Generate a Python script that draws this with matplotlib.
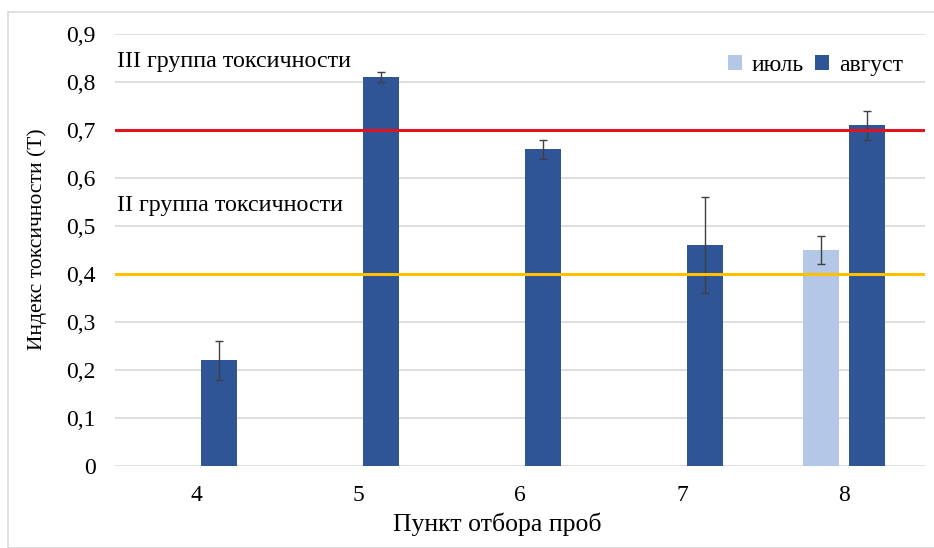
import matplotlib
matplotlib.use('Agg')
import matplotlib.pyplot as plt
import numpy as np
from matplotlib.patches import Rectangle

# data
points = ['4', '5', '6', '7', '8']
july = [np.nan, np.nan, np.nan, np.nan, 0.45]
july_err = [0, 0, 0, 0, 0.03]
august = [0.22, 0.81, 0.66, 0.46, 0.71]
august_err = [0.04, 0.01, 0.02, 0.10, 0.03]
limit_iii = 0.7
limit_ii = 0.4

plt.rcParams['font.family'] = ['Liberation Serif', 'DejaVu Serif']

fig = plt.figure(figsize=(9.34, 5.48), dpi=100)
fig.patches.append(Rectangle((8/934, 0), 1, 1 - 12/548, transform=fig.transFigure,
                             fill=False, edgecolor='#d9d9d9', lw=1.2))
ax = fig.add_axes([115/934, 1 - 466/548, 810/934, 432/548])

x = np.arange(len(points))
w = 0.222
off = 0.142
err_kw = dict(ecolor='#404040', elinewidth=1.0, capsize=3, capthick=1.0)
ax.bar(x - off, july, w, yerr=[0 if np.isnan(v) else e for v, e in zip(july, july_err)],
       color='#b4c7e7', label='июль', error_kw=err_kw, zorder=3)
ax.bar(x + off, august, w, yerr=august_err, color='#2f5597', label='август',
       error_kw=err_kw, zorder=3)

ax.axhline(limit_iii, color='#e0141e', lw=2.2, zorder=4)
ax.axhline(limit_ii, color='#ffc000', lw=2.2, zorder=4)

ax.text(-0.49, 0.843, 'III группа токсичности', fontsize=17.3, va='center', ha='left')
ax.text(-0.49, 0.543, 'II группа токсичности', fontsize=17.3, va='center', ha='left')

ax.set_xlim(-0.5, 4.5)
ax.set_ylim(0, 0.9)
ax.set_yticks(np.arange(0, 0.91, 0.1))
ax.set_yticklabels(['0'] + ['0,%d' % i for i in range(1, 10)])
ax.set_xticks(x)
ax.set_xticklabels(points)
ax.tick_params(length=0, labelsize=17, pad=14)
ax.tick_params(axis='x', pad=14)
ax.grid(axis='y', color='#d9d9d9', lw=1.2, zorder=0)
ax.set_axisbelow(True)
for s in ax.spines.values():
    s.set_visible(False)

ax.set_ylabel('Индекс токсичности (Т)', fontsize=15.5, va='center')
ax.yaxis.set_label_coords(-0.0963, 0.525)
ax.set_xlabel('Пункт отбора проб', fontsize=18.5, va='center')
ax.xaxis.set_label_coords(0.4716, -0.134)

ax.legend(loc='upper right', bbox_to_anchor=(0.999, 1.0), ncol=2, frameon=False,
          fontsize=17, handlelength=0.6, handleheight=0.6, handletextpad=0.4,
          columnspacing=0.5)

fig.savefig('out.png', dpi=100)
